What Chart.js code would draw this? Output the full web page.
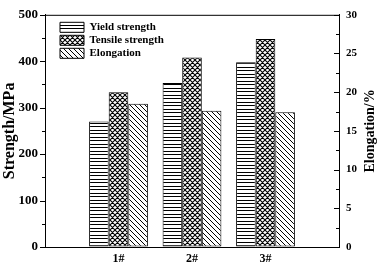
<!DOCTYPE html>
<html>
<head>
<meta charset="utf-8">
<script src="https://cdn.jsdelivr.net/npm/chart.js@4.4.1/dist/chart.umd.min.js"></script>
<style>
  html, body { margin: 0; padding: 0; background: #fff; }
  canvas { display: block; }
</style>
</head>
<body>
<canvas id="barChartCanvas" width="378" height="267"></canvas>
<script>
// values
var categories = ['1#', '2#', '3#'];
var yieldStrength = [270, 353, 398];
var tensileStrength = [333, 408, 448];
var elongation = [18.5, 17.6, 17.4];
var strengthTicks = [0, 100, 200, 300, 400, 500];
var elongationTicks = [0, 5, 10, 15, 20, 25, 30];

var serif = "'Liberation Serif', 'Times New Roman', serif";

// black & white hatch fills
function makePattern(kind) {
    var c = document.createElement('canvas');
    var ctx = c.getContext('2d');
    if (kind === 'horizontal') {
        c.width = 4; c.height = 7;
        ctx.fillStyle = '#fff';
        ctx.fillRect(0, 0, 4, 7);
        ctx.fillStyle = '#000';
        ctx.fillRect(0, 0, 4, 1);
        ctx.fillRect(0, 4, 4, 1);
        return ctx.createPattern(c, 'repeat');
    }
    var s = 5;
    c.width = s; c.height = s;
    ctx.fillStyle = '#fff';
    ctx.fillRect(0, 0, s, s);
    ctx.strokeStyle = '#000';
    ctx.lineWidth = kind === 'cross' ? 1.1 : 1;
    ctx.beginPath();
    [-s, 0, s].forEach(function(k) {
        ctx.moveTo(k - 1, -1);
        ctx.lineTo(k + s + 1, s + 1);
        if (kind === 'cross') {
            ctx.moveTo(k + s + 1, -1);
            ctx.lineTo(k - 1, s + 1);
        }
    });
    ctx.stroke();
    return ctx.createPattern(c, 'repeat');
}

// empty slots either side so the groups sit at 1, 2, 3 of a 0..4 axis
var labels = [''].concat(categories, ['']);
function pad(arr) { return [null].concat(arr, [null]); }

var rightTitle = 'Elongation/%';

var framePlugin = {
    id: 'frame',
    afterLayout: function(chart) {
        // move the legend into the upper left corner of the plot
        var lg = chart.legend, area = chart.chartArea;
        if (lg) {
            var w = lg.right - lg.left;
            lg.left = area.left + 13; lg.right = lg.left + w;
            lg.top = area.top + 5; lg.bottom = area.bottom;
        }
    },
    afterDraw: function(chart) {
        var ctx = chart.ctx, area = chart.chartArea;
        var ys = chart.scales.y, y2 = chart.scales.y1;
        ctx.save();
        ctx.strokeStyle = '#000';
        ctx.lineWidth = 1;
        ctx.beginPath();
        ctx.moveTo(area.left, area.top + 0.5);
        ctx.lineTo(area.right + 1, area.top + 0.5);
        var i, p;
        for (i = 0; i < strengthTicks.length; i++) {
            p = Math.round(ys.getPixelForValue(strengthTicks[i])) + 0.5;
            ctx.moveTo(area.left - 5, p); ctx.lineTo(area.left, p);
            if (i > 0) {
                p = Math.round(ys.getPixelForValue((strengthTicks[i] + strengthTicks[i - 1]) / 2)) + 0.5;
                ctx.moveTo(area.left - 3, p); ctx.lineTo(area.left, p);
            }
        }
        for (i = 0; i < elongationTicks.length; i++) {
            p = Math.round(y2.getPixelForValue(elongationTicks[i])) + 0.5;
            ctx.moveTo(area.right, p); ctx.lineTo(area.right - 5, p);
            if (i > 0) {
                p = Math.round(y2.getPixelForValue((elongationTicks[i] + elongationTicks[i - 1]) / 2)) + 0.5;
                ctx.moveTo(area.right, p); ctx.lineTo(area.right - 3, p);
            }
        }
        ctx.stroke();

        // right axis title reads bottom to top
        ctx.translate(y2.right - 7.5, (area.top + area.bottom) / 2);
        ctx.rotate(-Math.PI / 2);
        ctx.fillStyle = '#000';
        ctx.font = 'bold 14px ' + serif;
        ctx.textAlign = 'center';
        ctx.textBaseline = 'middle';
        ctx.fillText(rightTitle, 0, 0);
        ctx.restore();
    }
};

var ctx = document.getElementById('barChartCanvas').getContext('2d');
var myChart = new Chart(ctx, {
    type: 'bar',
    data: {
        labels: labels,
        datasets: [{
            label: 'Yield strength',
            data: pad(yieldStrength),
            yAxisID: 'y',
            backgroundColor: makePattern('horizontal'),
            borderColor: '#000',
            borderWidth: 1,
            borderSkipped: false
        },
        {
            label: 'Tensile strength',
            data: pad(tensileStrength),
            yAxisID: 'y',
            backgroundColor: makePattern('cross'),
            borderColor: '#000',
            borderWidth: 1,
            borderSkipped: false
        },
        {
            label: 'Elongation',
            data: pad(elongation),
            yAxisID: 'y1',
            backgroundColor: makePattern('diagonal'),
            borderColor: '#000',
            borderWidth: 1,
            borderSkipped: false
        }]
    },
    options: {
        responsive: false,
        animation: false,
        devicePixelRatio: 1,
        events: [],
        categoryPercentage: 0.8,
        barPercentage: 1.0,
        layout: { padding: { top: 10, left: 0, right: 0, bottom: 0 } },
        plugins: {
            tooltip: { enabled: false },
            legend: {
                position: 'chartArea',
                align: 'start',
                labels: {
                    boxWidth: 24,
                    boxHeight: 10,
                    padding: 2,
                    color: '#000',
                    font: { family: serif, size: 11, weight: 'bold' }
                }
            }
        },
        scales: {
            x: {
                type: 'category',
                offset: false,
                grid: { display: false, drawTicks: false },
                border: { display: true, color: '#000', width: 1 },
                ticks: {
                    color: '#000',
                    padding: 5,
                    autoSkip: false,
                    maxRotation: 0,
                    font: { family: serif, size: 12, weight: 'bold' }
                },
                afterFit: function(s) { s.height = 20; }
            },
            y: {
                position: 'left',
                min: 0,
                max: 500,
                afterBuildTicks: function(s) {
                    s.ticks = strengthTicks.map(function(v) { return { value: v }; });
                },
                grid: { drawOnChartArea: false, drawTicks: false },
                border: { display: true, color: '#000', width: 1 },
                ticks: {
                    color: '#000',
                    padding: 7,
                    font: { family: serif, size: 13, weight: 'bold' }
                },
                title: {
                    display: true,
                    text: 'Strength/MPa',
                    color: '#000',
                    padding: 0,
                    font: { family: serif, size: 16, weight: 'bold', lineHeight: 1.2 }
                },
                afterFit: function(s) { s.width = 45; }
            },
            y1: {
                position: 'right',
                min: 0,
                max: 30,
                afterBuildTicks: function(s) {
                    s.ticks = elongationTicks.map(function(v) { return { value: v }; });
                },
                grid: { drawOnChartArea: false, drawTicks: false },
                border: { display: true, color: '#000', width: 1 },
                ticks: {
                    color: '#000',
                    padding: 7,
                    font: { family: serif, size: 11, weight: 'bold' }
                },
                afterFit: function(s) { s.width = 39; }
            }
        }
    },
    plugins: [framePlugin]
});
</script>
</body>
</html>
